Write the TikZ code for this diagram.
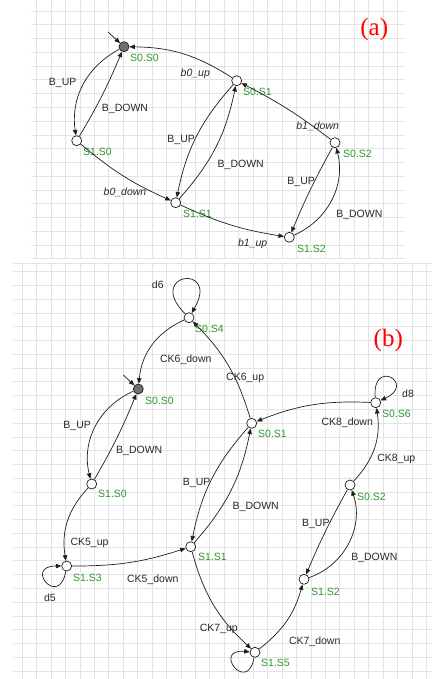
\documentclass[tikz,border=0pt]{standalone}
\usepackage{fontspec}
\newfontfamily\lsans{Liberation Sans}
\newfontfamily\lserif{Liberation Serif}
\usetikzlibrary{arrows.meta,calc}

\definecolor{gridc}{RGB}{228,228,228}
\definecolor{stgreen}{RGB}{46,150,46}
\definecolor{edgec}{RGB}{30,30,30}
\definecolor{lblc}{RGB}{40,40,40}
\definecolor{initc}{RGB}{112,112,112}

\tikzset{
  st/.style={circle, draw=edgec, line width=0.7pt, fill=white, minimum size=10pt, inner sep=0pt},
  ist/.style={st, fill=initc},
  tr/.style={draw=edgec, line width=0.7pt, -{Triangle[length=5.5pt,width=4.5pt]}},
  elbl/.style={font=\lsans\fontsize{10.5}{12}\selectfont, text=lblc, inner sep=0pt},
  eilbl/.style={font=\lsans\itshape\fontsize{10.5}{12}\selectfont, text=lblc, inner sep=0pt},
  slbl/.style={font=\lsans\fontsize{10.5}{12}\selectfont, text=stgreen, inner sep=0pt, anchor=west},
  panel/.style={font=\lserif\fontsize{25}{28}\selectfont, text=red, inner sep=0pt},
  gridline/.style={draw=gridc, line width=0.8pt}
}

\begin{document}
\begin{tikzpicture}[x=1pt,y=1pt]
\useasboundingbox (0,0) rectangle (432,-679);

% ---------- grid paper behind (a) ----------
\foreach \i in {0,...,25}
  \draw[gridline] ({36.7+14.43*\i},0) -- ({36.7+14.43*\i},-258.9);
\foreach \j in {0,...,18}
  \draw[gridline] (31,{-11-13.77*\j}) -- (405,{-11-13.77*\j});

% ---------- grid paper behind (b) ----------
\foreach \i in {0,...,28}
  \draw[gridline] ({22.3+14.43*\i},-263.3) -- ({22.3+14.43*\i},-679);
\draw[gridline] (13.3,-263.3) -- (432,-263.3);
\foreach \j in {0,...,29}
  \draw[gridline] (13.3,{-271.7-13.77*\j}) -- (432,{-271.7-13.77*\j});

% ================= (a) =================
\node[ist] (a00) at (124,-46.7) {};
\node[st]  (a01) at (236.7,-80.7) {};
\node[st]  (a10) at (76.7,-140.7) {};
\node[st]  (a02) at (335,-142.7) {};
\node[st]  (a11) at (175.7,-202.7) {};
\node[st]  (a12) at (289.3,-237.3) {};

\node[slbl] (ta00) at ($(a00)+(6,-11.3)$) {S0.S0};
\node[slbl] (ta01) at ($(a01)+(6.3,-11.3)$) {S0.S1};
\node[slbl] (ta10) at ($(a10)+(6.3,-11.3)$) {S1.S0};
\node[slbl] (ta02) at ($(a02)+(8,-11.3)$) {S0.S2};
\node[slbl] (ta11) at ($(a11)+(7.3,-11.3)$) {S1.S1};
\node[slbl] (ta12) at ($(a12)+(7.7,-12)$) {S1.S2};

\coordinate (ainit) at (108,-32);
\draw[tr] (ainit) -- (a00);

\draw[tr] (a01) to[bend right=16] (a00);
\draw[tr] (a00) to[bend right=35] (a10);
\draw[tr] (a10) to[bend right=4] (a00);
\draw[tr] (a10) to[bend right=8] (a11);
\draw[tr] (a01) to[bend right=15] (a11);
\draw[tr] (a11) to[bend right=15] (a01);
\draw[tr] (a02) to[bend right=5] (a01);
\draw[tr] (a02) to[bend right=3] (a12);
\draw[tr] (a12) to[bend right=40] (a02);
\draw[tr] (a11) to[bend right=8] (a12);

\node[eilbl] (la1) at (195.3,-74) {b0\_up};
\node[elbl]  (la2) at (62.7,-83.3) {B\_UP};
\node[elbl]  (la3) at (125,-109.3) {B\_DOWN};
\node[eilbl] (la4) at (125,-192.7) {b0\_down};
\node[elbl]  (la5) at (181.2,-140) {B\_UP};
\node[elbl]  (la6) at (240.7,-165) {B\_DOWN};
\node[eilbl] (la7) at (317.7,-126.7) {b1\_down};
\node[elbl]  (la8) at (301.2,-181.7) {B\_UP};
\node[elbl]  (la9) at (359.3,-215) {B\_DOWN};
\node[eilbl] (la10) at (252.7,-243.3) {b1\_up};

\node[panel] (pa) at (374.2,-29.3) {(a)};

% ================= (b) =================
\node[st]  (b04) at (189,-317.7) {};
\node[ist] (b00) at (138.3,-389) {};
\node[st]  (b01) at (251.7,-423.3) {};
\node[st]  (b06) at (375.7,-402.7) {};
\node[st]  (b10) at (91.7,-484) {};
\node[st]  (b02) at (350,-485) {};
\node[st]  (b11) at (190.7,-546.7) {};
\node[st]  (b13) at (66.7,-566) {};
\node[st]  (b12) at (304,-579.3) {};
\node[st]  (b15) at (255,-652.3) {};

\node[slbl] (tb04) at ($(b04)+(6,-11.3)$) {S0.S4};
\node[slbl] (tb00) at ($(b00)+(6.7,-11.7)$) {S0.S0};
\node[slbl] (tb01) at ($(b01)+(6.3,-10.7)$) {S0.S1};
\node[slbl] (tb06) at ($(b06)+(6.3,-11.6)$) {S0.S6};
\node[slbl] (tb10) at ($(b10)+(6.3,-10.3)$) {S1.S0};
\node[slbl] (tb02) at ($(b02)+(7,-11.7)$) {S0.S2};
\node[slbl] (tb11) at ($(b11)+(7.3,-10.6)$) {S1.S1};
\node[slbl] (tb13) at ($(b13)+(6.3,-12.3)$) {S1.S3};
\node[slbl] (tb12) at ($(b12)+(7,-12.4)$) {S1.S2};
\node[slbl] (tb15) at ($(b15)+(6,-10.4)$) {S1.S5};

\coordinate (binit) at (123.3,-375);
\draw[tr] (binit) -- (b00);

% self loops
\draw[tr] (b04.135) .. controls +(135:58) and +(60:58) .. (b04.60);
\draw[tr] (b06.95) .. controls +(95:40) and +(25:40) .. (b06.25);
\draw[tr] (b13.260) .. controls +(260:38) and +(180:38) .. (b13.180);
\draw[tr] (b15.260) .. controls +(260:38) and +(175:38) .. (b15.175);

\draw[tr] (b04) to[bend right=30] (b00);
\draw[tr] (b01) to[bend right=14] (b04);
\draw[tr] (b06) to[bend right=12] (b01);
\draw[tr] (b02) to[bend right=26] (b06);
\draw[tr] (b00) to[bend right=40] (b10);
\draw[tr] (b10) to[bend right=4] (b00);
\draw[tr] (b01) to[bend right=15] (b11);
\draw[tr] (b11) to[bend right=15] (b01);
\draw[tr] (b10) to[bend right=26] (b13);
\draw[tr] (b13) to[bend right=9] (b11);
\draw[tr] (b11) to[bend right=16] (b15);
\draw[tr] (b15) to[bend right=18] (b12);
\draw[tr] (b02) to[bend right=3] (b12);
\draw[tr] (b12) to[bend right=45] (b02);

\node[elbl] (lb1)  at (157.8,-284.3) {d6};
\node[elbl] (lb2)  at (185.8,-360) {CK6\_down};
\node[elbl] (lb3)  at (245.2,-378.3) {CK6\_up};
\node[elbl] (lb4)  at (408,-394) {d8};
\node[elbl] (lb5)  at (347.2,-422.3) {CK8\_down};
\node[elbl] (lb6)  at (77.2,-425.7) {B\_UP};
\node[elbl] (lb7)  at (139.2,-451) {B\_DOWN};
\node[elbl] (lb8)  at (396.3,-459.3) {CK8\_up};
\node[elbl] (lb9)  at (196.7,-483.3) {B\_UP};
\node[elbl] (lb10) at (255.7,-507.3) {B\_DOWN};
\node[elbl] (lb11) at (315.8,-524.3) {B\_UP};
\node[elbl] (lb12) at (374.3,-558.3) {B\_DOWN};
\node[elbl] (lb13) at (89.5,-542.7) {CK5\_up};
\node[elbl] (lb14) at (152.8,-579.3) {CK5\_down};
\node[elbl] (lb15) at (50,-597.3) {d5};
\node[elbl] (lb16) at (218.8,-629) {CK7\_up};
\node[elbl] (lb17) at (314.7,-641.7) {CK7\_down};

\node[panel] (pb) at (388.3,-340) {(b)};
\end{tikzpicture}
\end{document}
